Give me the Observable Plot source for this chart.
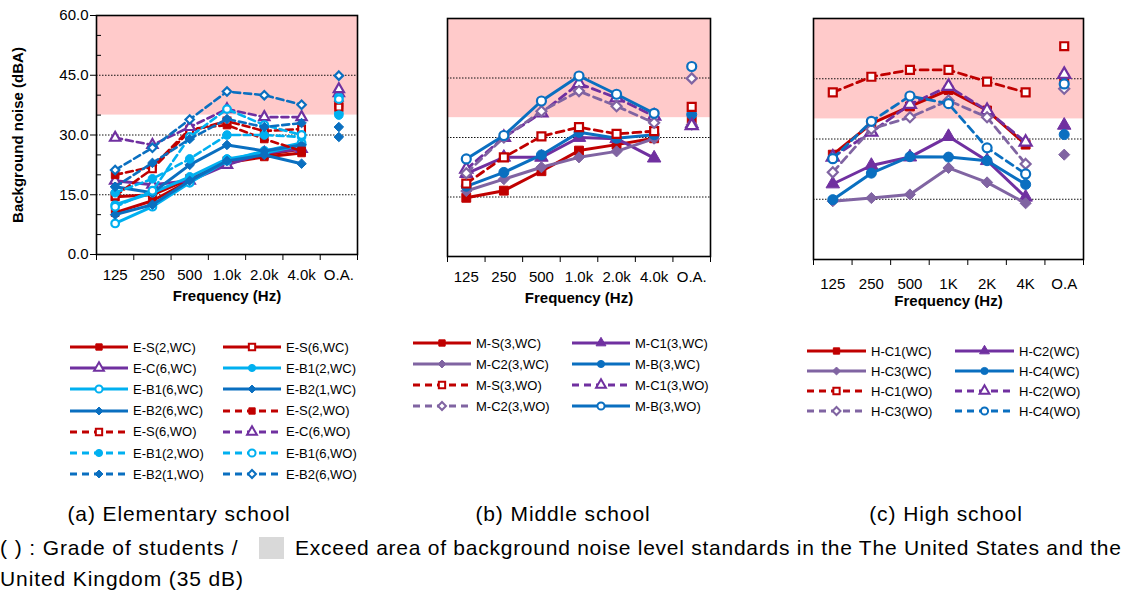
<!DOCTYPE html>
<html><head><meta charset="utf-8">
<script src="https://cdn.jsdelivr.net/npm/d3@7"></script>
<script src="https://cdn.jsdelivr.net/npm/@observablehq/plot@0.6"></script>
<style>
body{margin:0;background:#fff;}
#root{position:relative;width:1132px;height:590px;overflow:hidden;font-family:"Liberation Sans",Arial,sans-serif;background:#fff;}
.panel{position:absolute;top:0;}
.item{position:absolute;display:flex;align-items:center;white-space:nowrap;font-size:13px;height:20px;color:#000;}
.item svg{display:block;margin-right:5px;overflow:visible}
.cap{position:absolute;font-size:21px;letter-spacing:0.9px;white-space:nowrap;line-height:24px;color:#000;}
.gbox{position:absolute;background:#d9d9d9;}
</style></head><body><div id="root"></div><script>
// ---------- data ----------
const freqA = ["125","250","500","1.0k","2.0k","4.0k","O.A."];
const freqB = ["125","250","500","1.0k","2.0k","4.0k","O.A."];
const freqC = ["125","250","500","1K","2K","4K","O.A"];
const yTicks = [0, 15, 30, 45, 60];
const yMinor = [5, 10, 20, 25, 35, 40, 50, 55];
const gridLines = [15, 30, 45];
const standardBand = [{lo: 35, hi: 60}];

const elemNames = ["E-S(2,WC)","E-S(6,WC)","E-C(6,WC)","E-B1(2,WC)","E-B1(6,WC)","E-B2(1,WC)","E-B2(6,WC)",
  "E-S(2,WO)","E-S(6,WO)","E-C(6,WO)","E-B1(2,WO)","E-B1(6,WO)","E-B2(1,WO)","E-B2(6,WO)"];
const elemValues = [
  [10.5, 13.5, 18.5, 23.0, 24.5, 25.5, 37.5],
  [14.5, 15.0, 19.0, 23.5, 25.0, 26.5, 37.0],
  [18.5, 17.5, 18.5, 22.5, 25.5, 26.5, 40.5],
  [12.5, 15.5, 19.5, 24.0, 25.5, 27.5, 35.5],
  [7.8, 12.0, 18.0, 23.5, 26.0, 28.0, 39.5],
  [17.0, 15.5, 22.5, 27.5, 26.0, 27.5, 38.5],
  [10.0, 12.5, 18.5, 23.5, 25.0, 22.8, 29.5],
  [20.0, 22.0, 31.5, 32.5, 29.0, 26.0, 38.0],
  [14.7, 21.5, 31.0, 33.5, 31.0, 31.5, 37.0],
  [29.3, 27.5, 32.0, 36.5, 34.5, 34.5, 41.5],
  [15.5, 19.0, 24.0, 30.0, 30.0, 29.5, 35.0],
  [12.0, 16.0, 29.5, 36.5, 32.5, 30.0, 39.0],
  [17.0, 23.0, 29.0, 34.0, 32.0, 33.0, 32.0],
  [21.2, 26.8, 33.9, 40.9, 40.0, 37.6, 44.9]
];

const midNames = ["M-S(3,WC)","M-C1(3,WC)","M-C2(3,WC)","M-B(3,WC)","M-S(3,WO)","M-C1(3,WO)","M-C2(3,WO)","M-B(3,WO)"];
const midValues = [
  [14.8, 16.6, 21.5, 26.7, 28.2, 29.8, 34.1],
  [20.9, 25.0, 25.0, 30.0, 29.7, 24.8, 33.4],
  [16.5, 19.5, 22.5, 25.0, 26.5, 29.7, 33.2],
  [17.7, 21.2, 25.6, 31.3, 29.8, 30.7, 35.8],
  [18.4, 25.0, 30.3, 32.6, 30.9, 31.6, 37.7],
  [22.0, 30.0, 36.2, 43.6, 40.0, 35.4, 33.0],
  [21.0, 30.0, 36.6, 41.7, 37.9, 33.7, 44.9],
  [24.6, 30.5, 39.2, 45.5, 40.9, 36.1, 47.9]
];

const highNames = ["H-C1(WC)","H-C2(WC)","H-C3(WC)","H-C4(WC)","H-C1(WO)","H-C2(WO)","H-C3(WO)","H-C4(WO)"];
const highValues = [
  [26.1, 33.8, 38.1, 42.2, 37.1, 28.6, 45.2],
  [18.8, 23.4, 25.5, 30.6, 24.6, 15.5, 33.4],
  [14.5, 15.3, 16.2, 22.8, 19.2, 14.0, 26.1],
  [14.9, 21.5, 25.6, 25.5, 24.6, 18.7, 31.1],
  [41.6, 45.5, 47.2, 47.2, 44.3, 41.6, 53.1],
  [25.5, 31.7, 38.6, 43.1, 37.1, 29.2, 46.1],
  [21.7, 32.5, 35.4, 39.6, 35.4, 23.8, 42.5],
  [25.1, 34.4, 40.7, 38.8, 27.8, 21.3, 43.7]
];

// ---------- styles ----------
const RED = "#c00000", PUR = "#7030a0", LAV = "#8064a2", CYA = "#00b0f0", BLU = "#0a6fc0";
const elemStyles = [
  {c: RED, d: false, s: "square", o: false}, {c: RED, d: false, s: "square", o: true},
  {c: PUR, d: false, s: "triangle", o: true}, {c: CYA, d: false, s: "circle", o: false},
  {c: CYA, d: false, s: "circle", o: true}, {c: BLU, d: false, s: "diamond2", o: false},
  {c: BLU, d: false, s: "diamond2", o: false}, {c: RED, d: true, s: "square", o: false},
  {c: RED, d: true, s: "square", o: true}, {c: PUR, d: true, s: "triangle", o: true},
  {c: CYA, d: true, s: "circle", o: false}, {c: CYA, d: true, s: "circle", o: true},
  {c: BLU, d: true, s: "diamond2", o: false}, {c: BLU, d: true, s: "diamond2", o: true}
];
const midStyles = [
  {c: RED, d: false, s: "square", o: false}, {c: PUR, d: false, s: "triangle", o: false},
  {c: LAV, d: false, s: "diamond2", o: false}, {c: BLU, d: false, s: "circle", o: false},
  {c: RED, d: true, s: "square", o: true}, {c: PUR, d: true, s: "triangle", o: true},
  {c: LAV, d: true, s: "diamond2", o: true}, {c: BLU, d: false, s: "circle", o: true}
];
const highStyles = [
  {c: RED, d: false, s: "square", o: false}, {c: PUR, d: false, s: "triangle", o: false},
  {c: LAV, d: false, s: "diamond2", o: false}, {c: BLU, d: false, s: "circle", o: false},
  {c: RED, d: true, s: "square", o: true}, {c: PUR, d: true, s: "triangle", o: true},
  {c: LAV, d: true, s: "diamond2", o: true}, {c: BLU, d: true, s: "circle", o: true}
];

const root = document.getElementById("root");

function buildPanel(o) {
  const n = o.labels.length;
  const rows = [];
  o.values.forEach((vals, s) => vals.forEach((v, i) => rows.push({s, i, x: i + 0.5, y: v})));
  const marks = [
    Plot.rect(standardBand, {x1: () => 0, x2: () => n, y1: "lo", y2: "hi", fill: "#ffcaca"}),
    Plot.ruleY(gridLines, {stroke: "#111", strokeWidth: 1, strokeDasharray: "1.5,1.5"})
  ];
  o.names.forEach((name, s) => {
    const st = o.styles[s];
    const ser = rows.filter(d => d.s === s);
    const lineOpts = {x: "x", y: "y", stroke: st.c, strokeWidth: st.d ? o.lwD : o.lw};
    if (st.d) lineOpts.strokeDasharray = o.dash;
    marks.push(Plot.line(ser.filter(d => d.i < n - 1), lineOpts));
    marks.push(Plot.dot(ser, {x: "x", y: "y", symbol: st.s, r: st.o ? o.r - 0.5 : o.r,
      fill: st.o ? "white" : st.c, stroke: st.c, strokeWidth: st.o ? 2.2 : 1}));
  });
  marks.push(Plot.frame({stroke: "#000", strokeWidth: 1.6}));
  marks.push(Plot.axisX({ticks: d3.range(n).map(i => i + 0.5), tickFormat: v => o.labels[Math.floor(v)],
    tickSize: 0, tickPadding: o.tickPad, label: null}));
  marks.push(Plot.axisX({ticks: d3.range(n + 1), tickSize: 6, tickFormat: () => "", label: null}));
  marks.push(Plot.text(["Frequency (Hz)"], {text: d => d, frameAnchor: "bottom", dy: o.xLabelDy, fontWeight: "bold"}));
  if (o.yAxis) {
    marks.push(Plot.axisY({ticks: yTicks, tickFormat: d => d.toFixed(1), tickSize: 6, tickPadding: 2, label: null}));
    marks.push(Plot.axisY({ticks: yMinor, tickSize: 5, dx: 5, tickFormat: () => "", label: null}));
    marks.push(Plot.text(["Background noise (dBA)"], {text: d => d, frameAnchor: "left", textAnchor: "middle",
      rotate: -90, dx: -78, fontWeight: "bold"}));
  }
  const svg = Plot.plot({
    width: o.width, height: o.height,
    marginLeft: o.mL, marginRight: o.mR, marginTop: o.mT, marginBottom: o.mB,
    x: {domain: [0, n], axis: null},
    y: {domain: [0, 60], axis: null},
    style: {fontFamily: "'Liberation Sans', Arial, sans-serif", fontSize: "15px", background: "transparent", overflow: "visible", color: "#000"},
    marks
  });
  svg.classList.add("panel");
  svg.style.left = o.left + "px";
  svg.style.position = "absolute";
  svg.style.top = "0px";
  root.appendChild(svg);
}

buildPanel({labels: freqA, names: elemNames, values: elemValues, styles: elemStyles, left: 0, width: 380, height: 320,
  mL: 96, mR: 23, mT: 15, mB: 66, yAxis: true, r: 4.3, lw: 3, lwD: 2.6, dash: "7,4", tickPad: 15, xLabelDy: 46});
buildPanel({labels: freqB, names: midNames, values: midValues, styles: midStyles, left: 380, width: 370, height: 320,
  mL: 67, mR: 40, mT: 18, mB: 64, yAxis: false, r: 5, lw: 3, lwD: 2.8, dash: "8,5", tickPad: 15, xLabelDy: 46});
buildPanel({labels: freqC, names: highNames, values: highValues, styles: highStyles, left: 750, width: 382, height: 320,
  mL: 63, mR: 49, mT: 18, mB: 61, yAxis: false, r: 5, lw: 3, lwD: 2.8, dash: "8,5", tickPad: 19, xLabelDy: 46});

// ---------- legends ----------
const symbolMap = {square: d3.symbolSquare, triangle: d3.symbolTriangle, circle: d3.symbolCircle,
  diamond2: d3.symbolDiamond2 || d3.symbolSquare};
function buildLegend(names, styles, o) {
  names.forEach((name, k) => {
    const st = styles[k];
    const col = k % 2, row = Math.floor(k / 2);
    const div = document.createElement("div");
    div.className = "item";
    div.style.left = o.colX[col] + "px";
    div.style.top = (o.y0 + row * o.gap - 10) + "px";
    const svg = d3.create("svg").attr("width", o.len).attr("height", 20);
    svg.append("line").attr("x1", 0).attr("x2", o.len).attr("y1", 10).attr("y2", 10)
      .attr("stroke", st.c).attr("stroke-width", 3).attr("stroke-dasharray", st.d ? "7,5" : null);
    const sym = d3.symbol().type(symbolMap[st.s]).size(st.s === "triangle" ? 42 : 40)();
    svg.append("path").attr("d", sym)
      .attr("transform", `translate(${o.len / 2},10)` + (st.s === "diamond2" && !d3.symbolDiamond2 ? " rotate(45)" : ""))
      .attr("fill", st.o ? "white" : st.c).attr("stroke", st.c).attr("stroke-width", st.o ? 2 : 1);
    div.appendChild(svg.node());
    const span = document.createElement("span");
    span.textContent = name;
    div.appendChild(span);
    root.appendChild(div);
  });
}
buildLegend(elemNames, elemStyles, {colX: [70, 223], y0: 347, gap: 21.2, len: 58});
buildLegend(midNames, midStyles, {colX: [413, 572], y0: 343, gap: 21, len: 58});
buildLegend(highNames, highStyles, {colX: [807, 955], y0: 351, gap: 20, len: 59});

// ---------- captions ----------
function cap(text, x, y, align, spacing) {
  const d = document.createElement("div");
  d.className = "cap";
  d.textContent = text;
  d.style.top = (y - 12) + "px";
  if (spacing != null) d.style.letterSpacing = spacing + "px";
  if (align === "center") { d.style.left = x + "px"; d.style.transform = "translateX(-50%)"; }
  else d.style.left = x + "px";
  root.appendChild(d);
  return d;
}
cap("(a)  Elementary school", 179, 514, "center");
cap("(b)  Middle school", 563, 514, "center");
cap("(c)  High school", 946, 514, "center");
cap("( ) : Grade of students /", 0, 548);
const box = document.createElement("div");
box.className = "gbox";
box.style.left = "259px"; box.style.top = "537px"; box.style.width = "25px"; box.style.height = "22px";
root.appendChild(box);
cap("Exceed area of background noise level standards in the The United States and the", 295, 548, null, 0.75);
cap("United Kingdom (35 dB)", 0, 579);
</script></body></html>
